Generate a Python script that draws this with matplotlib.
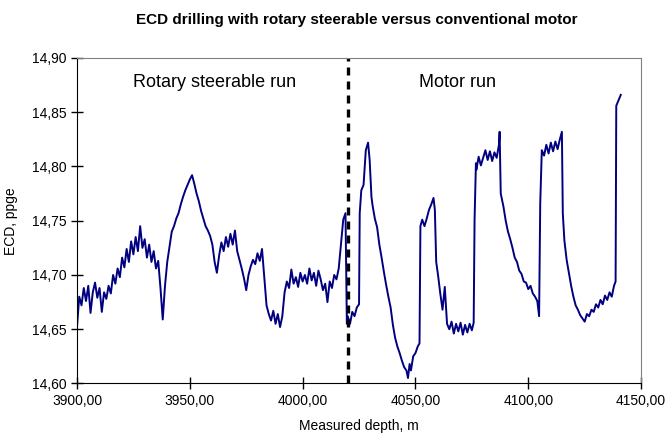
from matplotlib import pyplot
from matplotlib.ticker import FuncFormatter
import numpy

pyplot.rcParams['font.family'] = ['Liberation Sans', 'DejaVu Sans']

# rotary steerable run, 3900 - 4019 m
depth_rss = [3900, 3901, 3902, 3903, 3904, 3905, 3906, 3907, 3908, 3909,
             3910, 3911, 3912, 3913, 3914, 3915, 3916, 3917, 3918, 3919,
             3920, 3921, 3922, 3923, 3924, 3925, 3926, 3927, 3928, 3929,
             3930, 3931, 3932, 3933, 3934, 3935, 3936, 3937, 3938, 3939,
             3940, 3941, 3942, 3943, 3944, 3945, 3946, 3947, 3948, 3949,
             3950, 3951, 3952, 3953, 3954, 3955, 3956, 3957, 3958, 3959,
             3960, 3961, 3962, 3963, 3964, 3965, 3966, 3967, 3968, 3969,
             3970, 3971, 3972, 3973, 3974, 3975, 3976, 3977, 3978, 3979,
             3980, 3981, 3982, 3983, 3984, 3985, 3986, 3987, 3988, 3989,
             3990, 3991, 3992, 3993, 3994, 3995, 3996, 3997, 3998, 3999,
             4000, 4001, 4002, 4003, 4004, 4005, 4006, 4007, 4008, 4009,
             4010, 4011, 4012, 4013, 4014, 4015, 4016, 4017, 4018, 4019]
ecd_rss = [14.652, 14.680, 14.672, 14.688, 14.676, 14.690, 14.665, 14.684, 14.693, 14.679,
           14.688, 14.666, 14.684, 14.678, 14.690, 14.683, 14.700, 14.692, 14.706, 14.698,
           14.716, 14.707, 14.724, 14.712, 14.731, 14.719, 14.735, 14.722, 14.745, 14.725,
           14.733, 14.716, 14.728, 14.712, 14.722, 14.706, 14.713, 14.688, 14.659, 14.690,
           14.712, 14.726, 14.740, 14.745, 14.752, 14.757, 14.765, 14.772, 14.778, 14.783,
           14.788, 14.792, 14.784, 14.775, 14.768, 14.759, 14.752, 14.745, 14.741, 14.736,
           14.728, 14.712, 14.702, 14.718, 14.730, 14.722, 14.735, 14.726, 14.738, 14.728,
           14.741, 14.722, 14.714, 14.706, 14.697, 14.686, 14.700, 14.708, 14.714, 14.710,
           14.720, 14.713, 14.724, 14.698, 14.672, 14.664, 14.658, 14.667, 14.655, 14.664,
           14.652, 14.662, 14.684, 14.694, 14.688, 14.705, 14.692, 14.698, 14.689, 14.702,
           14.694, 14.700, 14.692, 14.706, 14.695, 14.702, 14.690, 14.704, 14.696, 14.686,
           14.692, 14.675, 14.694, 14.688, 14.700, 14.696, 14.706, 14.729, 14.751, 14.757]

# motor run, 4019.6 - 4141 m
depth_motor = [4019.6, 4020, 4021, 4022, 4023, 4024, 4025, 4025.3, 4026, 4027,
               4028, 4029, 4029.7, 4030.5, 4031, 4032, 4033, 4034, 4035, 4036,
               4037, 4038, 4039, 4040, 4041, 4042, 4043, 4044, 4045, 4046,
               4046.7, 4047.4, 4048, 4049, 4050, 4051, 4051.8, 4052.2, 4053, 4054,
               4055, 4056, 4057, 4058, 4058.6, 4059.2, 4060, 4061, 4062, 4063,
               4064, 4065, 4066, 4067, 4068, 4069, 4070, 4071, 4072, 4073,
               4074, 4075, 4075.8, 4076.2, 4076.8, 4077, 4078, 4079, 4080, 4081,
               4082, 4083, 4084, 4085, 4086, 4087, 4087.3, 4087.8, 4089, 4090,
               4091, 4092, 4093, 4094, 4095, 4096, 4097, 4098, 4099, 4100,
               4101, 4102, 4103, 4104, 4104.8, 4105.3, 4106, 4107, 4108, 4109,
               4110, 4111, 4112, 4113, 4114, 4114.9, 4115.3, 4116, 4117, 4118,
               4119, 4120, 4121, 4122, 4123, 4124, 4125, 4126, 4127, 4128,
               4129, 4130, 4131, 4132, 4133, 4134, 4135, 4136, 4137, 4138,
               4138.7, 4139, 4140, 4141]
ecd_motor = [14.655, 14.662, 14.655, 14.666, 14.662, 14.670, 14.673, 14.757, 14.778, 14.783,
             14.815, 14.822, 14.806, 14.772, 14.764, 14.752, 14.744, 14.728, 14.716, 14.703,
             14.691, 14.680, 14.670, 14.654, 14.642, 14.634, 14.628, 14.621, 14.615, 14.612,
             14.605, 14.618, 14.612, 14.625, 14.628, 14.634, 14.637, 14.745, 14.751, 14.745,
             14.752, 14.760, 14.765, 14.771, 14.760, 14.712, 14.700, 14.683, 14.668, 14.689,
             14.655, 14.650, 14.657, 14.646, 14.655, 14.648, 14.656, 14.645, 14.654, 14.647,
             14.655, 14.649, 14.656, 14.751, 14.803, 14.797, 14.809, 14.801, 14.808, 14.815,
             14.806, 14.814, 14.805, 14.813, 14.808, 14.820, 14.832, 14.775, 14.763, 14.750,
             14.740, 14.733, 14.725, 14.716, 14.712, 14.704, 14.701, 14.694, 14.693, 14.687,
             14.690, 14.683, 14.680, 14.676, 14.662, 14.766, 14.815, 14.810, 14.820, 14.812,
             14.822, 14.814, 14.823, 14.816, 14.825, 14.832, 14.757, 14.732, 14.714, 14.702,
             14.690, 14.680, 14.672, 14.668, 14.663, 14.660, 14.657, 14.664, 14.662, 14.668,
             14.666, 14.673, 14.670, 14.677, 14.673, 14.681, 14.677, 14.684, 14.680, 14.690,
             14.694, 14.856, 14.861, 14.866]

switch_depth = 4020
y_ticks = [14.60, 14.65, 14.70, 14.75, 14.80, 14.85, 14.90]
x_ticks = [3900, 3950, 4000, 4050, 4100, 4150]


def comma_fmt(decimals):
    return FuncFormatter(lambda v, pos: f'{v:.{decimals}f}'.replace('.', ','))


fig = pyplot.figure(figsize=(6.66, 4.34), dpi=100)
ax = fig.add_axes([0.1156, 0.1164, 0.847, 0.75])

ax.plot(numpy.array(depth_rss + depth_motor), numpy.array(ecd_rss + ecd_motor),
        color='#000080', linewidth=1.4)
ax.axvline(switch_depth, color='black', linewidth=2.4, linestyle=(0, (2.4, 1.8)))

ax.set_xlim(x_ticks[0], x_ticks[-1])
ax.set_ylim(y_ticks[0], y_ticks[-1])
ax.set_xticks(x_ticks)
ax.set_yticks(y_ticks)
ax.xaxis.set_major_formatter(comma_fmt(2))
ax.yaxis.set_major_formatter(comma_fmt(2))
ax.tick_params(direction='inout', length=8, width=1, labelsize=10, colors='black')

ax.spines['top'].set_color('#808080')
ax.spines['right'].set_color('#808080')

ax.set_xlabel('Measured depth, m', fontsize=10, labelpad=8)
ax.set_ylabel('ECD, ppge', fontsize=10, labelpad=10)

ax.text(3961, 14.877, 'Rotary steerable run', fontsize=13, ha='center', va='center')
ax.text(4068.5, 14.877, 'Motor run', fontsize=13, ha='center', va='center')

fig.text(0.535, 0.953, 'ECD drilling with rotary steerable versus conventional motor',
         fontsize=11, fontweight='bold', ha='center', va='center')

pyplot.savefig('out.png')
